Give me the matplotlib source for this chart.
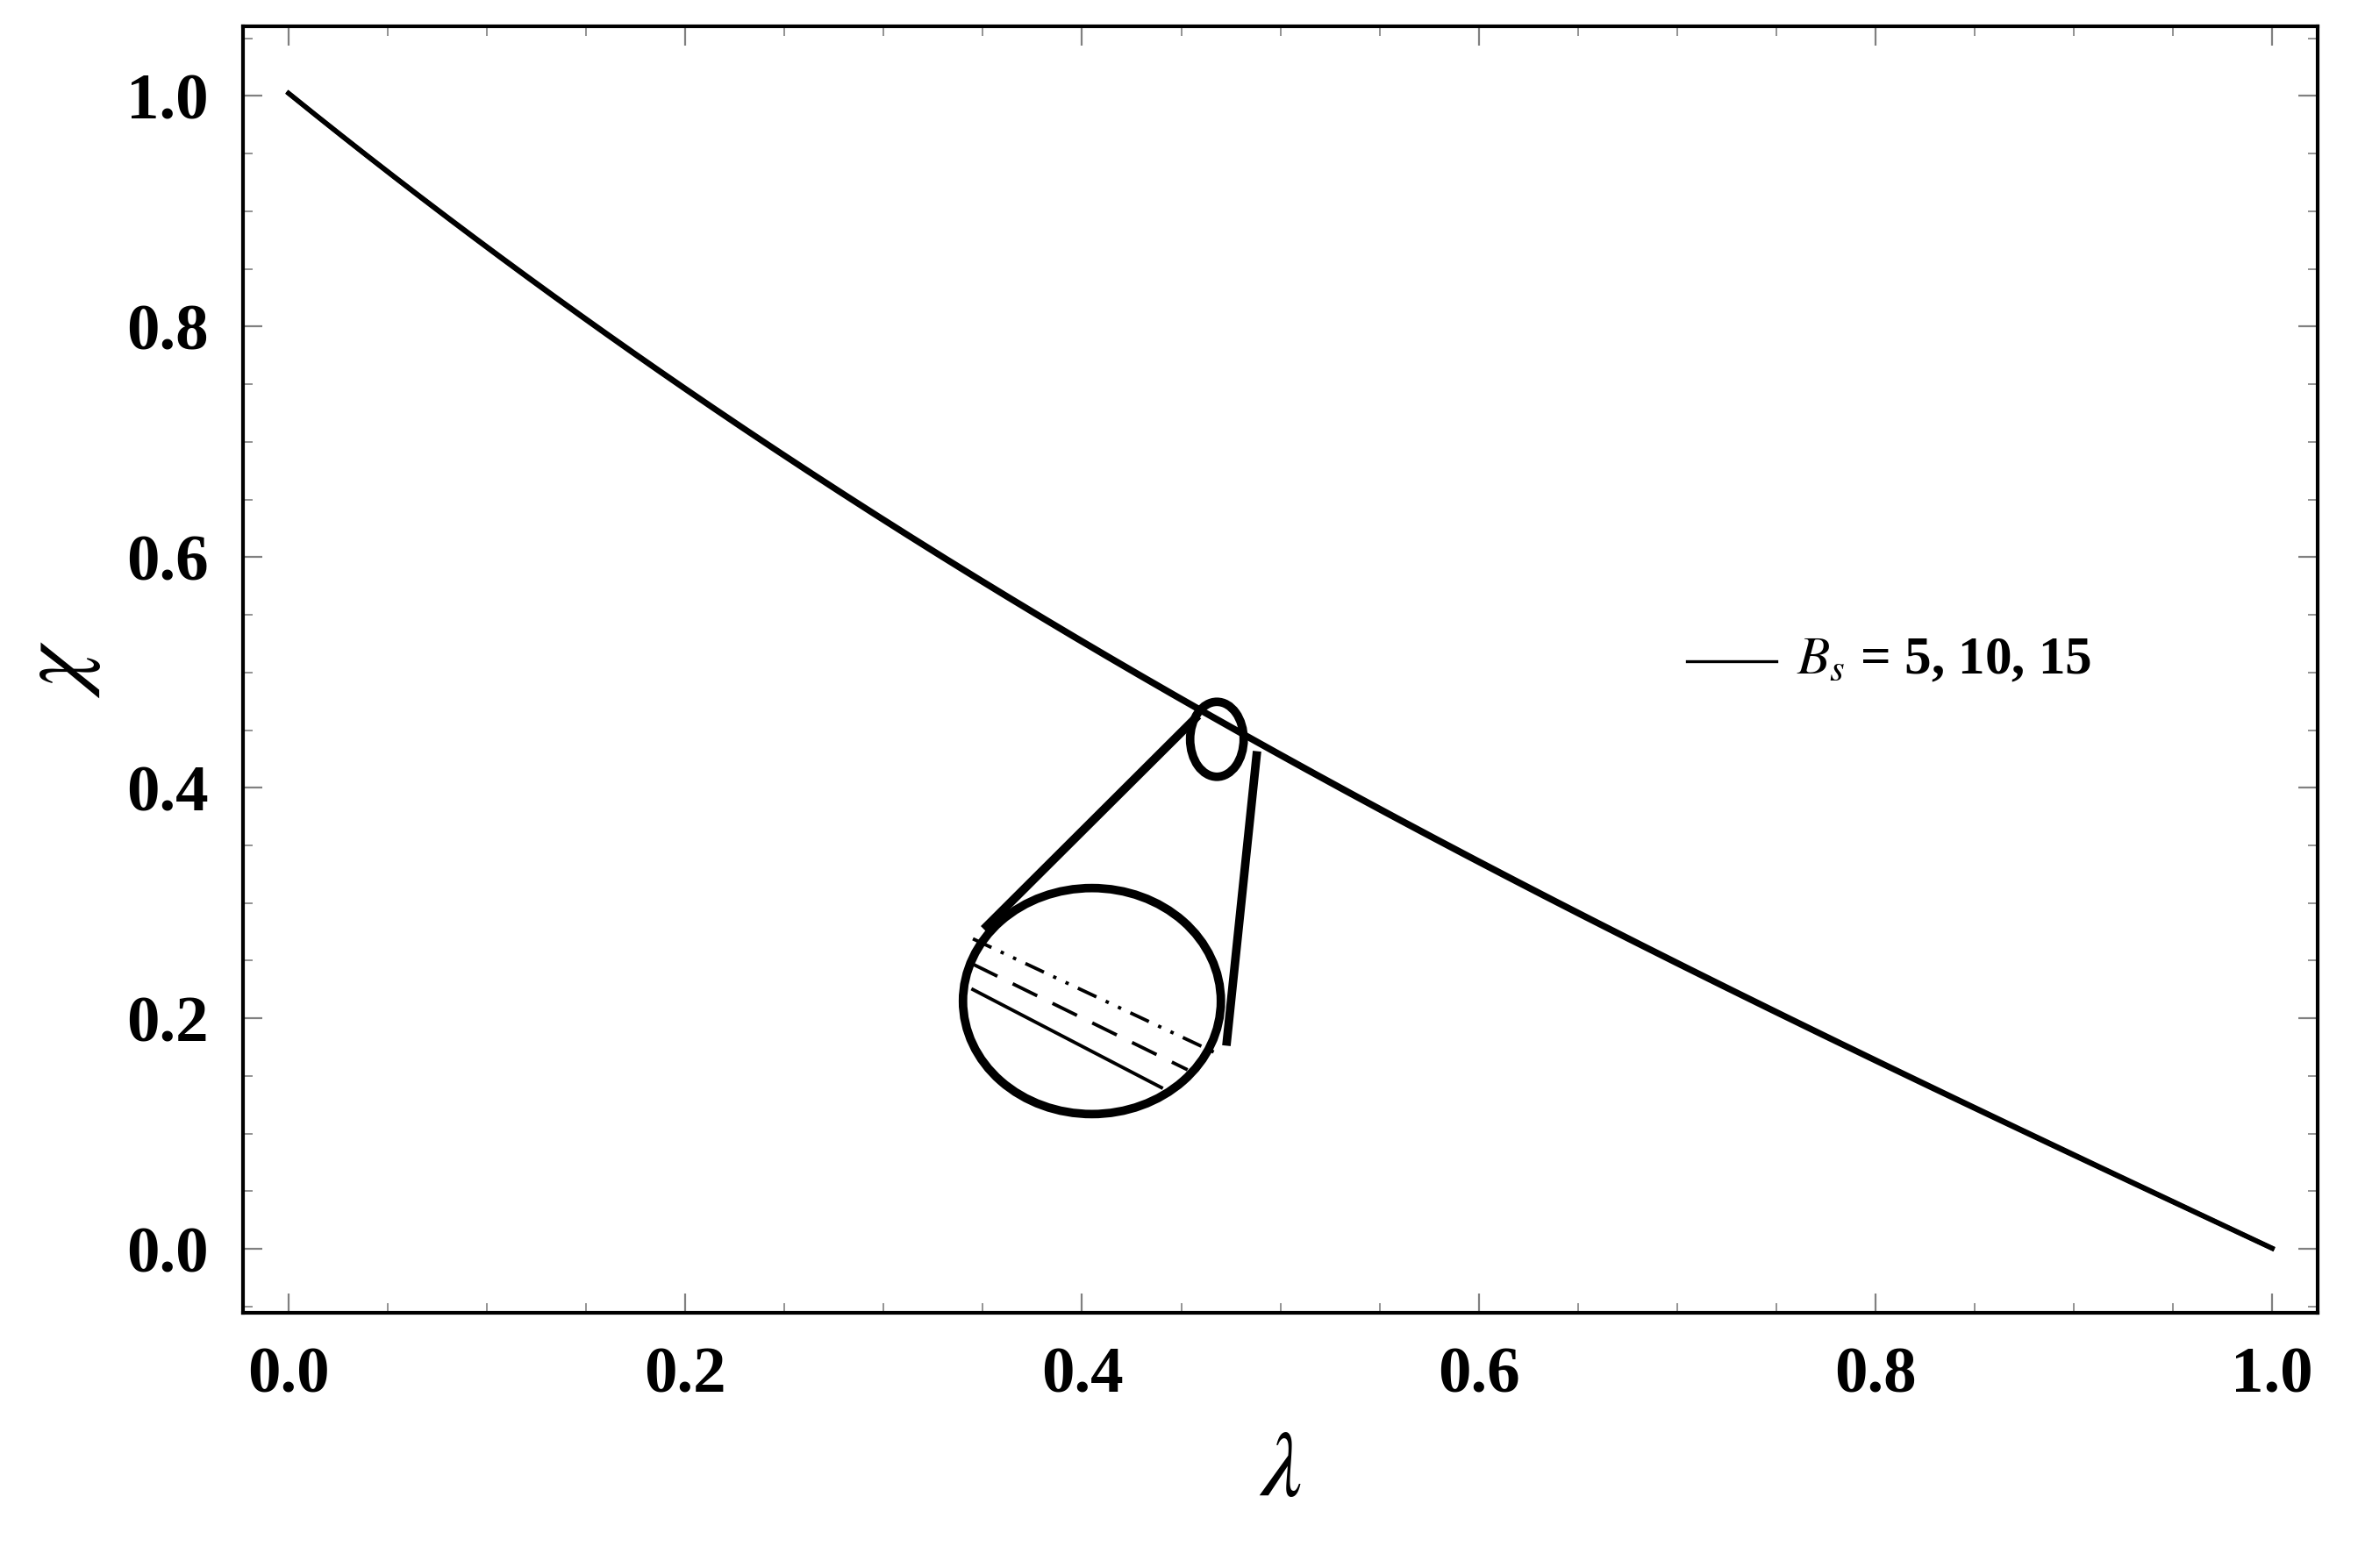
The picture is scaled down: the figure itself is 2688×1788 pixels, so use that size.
import numpy as np
import matplotlib.pyplot as plt
from matplotlib.patches import Ellipse
from matplotlib.ticker import MultipleLocator

plt.rcParams['font.family'] = ['Liberation Serif', 'DejaVu Serif']
plt.rcParams['mathtext.fontset'] = 'stix'

lam = [0.0, 0.1, 0.2, 0.3, 0.4, 0.5, 0.6, 0.7, 0.8, 0.9, 1.0]
chi_bs5 = [1.0, 0.87, 0.748, 0.632, 0.522, 0.424, 0.336, 0.25, 0.163, 0.08, 0.0]
chi_bs10 = [1.0, 0.871, 0.749, 0.633, 0.523, 0.425, 0.337, 0.251, 0.164, 0.081, 0.0]
chi_bs15 = [1.0, 0.872, 0.75, 0.634, 0.524, 0.426, 0.338, 0.252, 0.165, 0.082, 0.0]

fig = plt.figure(figsize=(13.44, 8.94), dpi=200)
ax = fig.add_axes([0.103, 0.163, 0.88, 0.82])

x = np.linspace(0, 1, 300)
for ys in [chi_bs5, chi_bs10, chi_bs15]:
    # smooth curve through the read points
    ax.plot(x, np.polyval(np.polyfit(lam, ys, 3), x), color='black', lw=1.8)

# legend entry
ax.plot([0.705, 0.75], [0.51, 0.51], color='black', lw=1.2)
ax.text(0.76, 0.51, r'$B_s$ = 5, 10, 15', fontsize=22, fontweight='bold', va='center')

# zoom inset decoration
ax.add_patch(Ellipse((0.468, 0.442), 0.027, 0.065, fill=False, lw=3.5, color='black'))
ax.add_patch(Ellipse((0.405, 0.215), 0.13, 0.196, fill=False, lw=3.5, color='black'))
ax.plot([0.457, 0.352], [0.46, 0.28], color='black', lw=3.5)
ax.plot([0.488, 0.473], [0.428, 0.18], color='black', lw=3.5)
for dy, ls in [(0.0, '-'), (0.022, (0, (8, 5))), (0.044, (0, (6, 3, 1, 3, 1, 3)))]:
    ax.plot([0.345, 0.440 + dy * 0.6], [0.225 + dy, 0.14 + dy * 0.7], color='black', lw=1.4, ls=ls)

ax.set_xlim(-0.023, 1.023)
ax.set_ylim(-0.055, 1.06)
ax.xaxis.set_major_locator(MultipleLocator(0.2))
ax.yaxis.set_major_locator(MultipleLocator(0.2))
ax.xaxis.set_minor_locator(MultipleLocator(0.05))
ax.yaxis.set_minor_locator(MultipleLocator(0.05))
ax.xaxis.set_major_formatter(plt.FuncFormatter(lambda v, p: f'{v:.1f}'))
ax.yaxis.set_major_formatter(plt.FuncFormatter(lambda v, p: f'{v:.1f}'))
ax.tick_params(which='both', direction='in', top=True, right=True, color='gray')
ax.tick_params(which='major', length=8, labelsize=27, pad=14)
ax.tick_params(which='minor', length=4)
for lab in ax.get_xticklabels() + ax.get_yticklabels():
    lab.set_fontweight('bold')
for s in ax.spines.values():
    s.set_linewidth(1.5)

ax.set_xlabel(r'$\lambda$', fontsize=38, labelpad=10)
ax.set_ylabel(r'$\chi$', fontsize=38, labelpad=10)

fig.savefig('out.png', dpi=200)
